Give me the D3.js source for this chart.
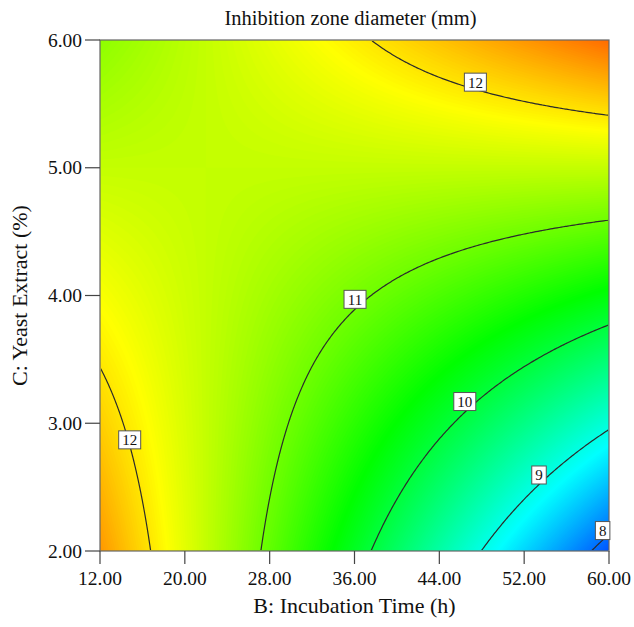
<!DOCTYPE html>
<html><head><meta charset="utf-8">
<script src="https://cdn.jsdelivr.net/npm/d3@7"></script>
<style>
body{margin:0;background:#fff}
</style>
</head><body>
<svg id="chart" width="634" height="627" font-family="'Liberation Serif', 'Times New Roman', Tinos, 'DejaVu Serif', serif"></svg>
<script>
// ---- data ----
const title = "Inhibition zone diameter (mm)";
const xTitle = "B: Incubation Time (h)";
const yTitle = "C: Yeast Extract (%)";
const xTicks = [12, 20, 28, 36, 44, 52, 60];
const yTicks = [2, 3, 4, 5, 6];
const xDomain = [12, 60];
const yDomain = [2, 6];
const contourLevels = [8, 9, 10, 11, 12];
// fitted response-surface model in coded units (B, C in -1..1)
const modelTerms = ["intercept", "B", "C", "BC", "B^2", "C^2"];
const modelCoef  = [11.05, -0.77, 0.90, 1.54, 0.0, 0.0];
// colour ramp (response value -> colour)
const colorStops  = [7.35, 8.85, 10.35, 11.85, 13.35];
const colorValues = ["#0000ff", "#00ffff", "#00ff00", "#ffff00", "#ff0000"];
// contour labels
const labelLevels = [12, 11, 10, 9, 8, 12];
const labelB      = [47.4, 36.05, 46.4, 53.4, 59.4, 14.8];
const labelC      = [5.67, 3.97, 3.17, 2.595, 2.16, 2.87];

// ---- layout ----
const L = 100, R = 609, T = 40, B = 551;
const svg = d3.select("#chart");
const xScale = d3.scaleLinear().domain(xDomain).range([L, R]);
const yScale = d3.scaleLinear().domain(yDomain).range([B, T]);
const color = d3.scaleLinear().domain(colorStops).range(colorValues).clamp(true);

function model(bv, cv) {
  const x = (bv - 36) / 24, y = (cv - 4) / 2;
  const t = [1, x, y, x * y, x * x, y * y];
  return d3.sum(t, (v, i) => v * modelCoef[i]);
}

// grid sampled at cell centres
const n = 240, m = 240;
const values = new Float64Array(n * m);
for (let j = 0; j < m; j++) {
  const cv = yDomain[1] - (j + 0.5) * (yDomain[1] - yDomain[0]) / m;
  for (let i = 0; i < n; i++) {
    const bv = xDomain[0] + (i + 0.5) * (xDomain[1] - xDomain[0]) / n;
    values[j * n + i] = model(bv, cv);
  }
}
const gx = d3.scaleLinear().domain([0, n]).range(xDomain);
const gy = d3.scaleLinear().domain([0, m]).range([yDomain[1], yDomain[0]]);
const path = d3.geoPath(d3.geoTransform({
  point(u, v) { this.stream.point(xScale(gx(u)), yScale(gy(v))); }
}));

const contours = d3.contours().size([n, m]);

// filled colour bands
const ext = d3.extent(values);
const step = 0.02;
const bandThresholds = d3.range(Math.floor(ext[0] / step) * step, ext[1], step);
svg.append("g").selectAll("path")
  .data(contours.thresholds(bandThresholds)(values))
  .join("path")
  .attr("d", path)
  .attr("fill", d => color(d.value + step / 2))
  .attr("stroke", "none");

// contour lines (clipped so the boundary parts are hidden)
svg.append("clipPath").attr("id", "inner")
  .append("rect").attr("x", L + 1).attr("y", T + 1)
  .attr("width", R - L - 2).attr("height", B - T - 2);
svg.append("g").attr("clip-path", "url(#inner)")
  .selectAll("path")
  .data(contours.thresholds(contourLevels)(values))
  .join("path")
  .attr("d", path)
  .attr("fill", "none")
  .attr("stroke", "#2b2b2b")
  .attr("stroke-width", 1.2);

// frame
svg.append("rect").attr("x", L).attr("y", T)
  .attr("width", R - L).attr("height", B - T)
  .attr("fill", "none").attr("stroke", "#666").attr("stroke-width", 1.2);

// x axis ticks
const xg = svg.append("g");
xg.selectAll("line").data(xTicks).join("line")
  .attr("x1", d => xScale(d)).attr("x2", d => xScale(d))
  .attr("y1", B).attr("y2", B + 13)
  .attr("stroke", "#444").attr("stroke-width", 1.2);
xg.selectAll("text").data(xTicks).join("text")
  .attr("x", d => xScale(d)).attr("y", B + 34)
  .attr("text-anchor", "middle").attr("font-size", 19.5).attr("fill", "#111")
  .text(d => d.toFixed(2));

// y axis ticks
const yg = svg.append("g");
yg.selectAll("line").data(yTicks).join("line")
  .attr("x1", L - 15).attr("x2", L)
  .attr("y1", d => yScale(d)).attr("y2", d => yScale(d))
  .attr("stroke", "#444").attr("stroke-width", 1.2);
yg.selectAll("text").data(yTicks).join("text")
  .attr("x", L - 18).attr("y", d => yScale(d) + 6.5)
  .attr("text-anchor", "end").attr("font-size", 19.5).attr("fill", "#111")
  .text(d => d.toFixed(2));

// titles
svg.append("text").attr("x", (L + R) / 2 - 4).attr("y", 25).attr("fill", "#111")
  .attr("text-anchor", "middle").attr("font-size", 20.5).text(title);
svg.append("text").attr("x", (L + R) / 2).attr("y", 613).attr("fill", "#111")
  .attr("text-anchor", "middle").attr("font-size", 22).text(xTitle);
svg.append("text").attr("transform", `translate(27,${(T + B) / 2}) rotate(-90)`).attr("fill", "#111")
  .attr("text-anchor", "middle").attr("font-size", 22).text(yTitle);

// contour labels
const lg = svg.append("g").selectAll("g")
  .data(labelLevels.map((v, i) => ({v, b: labelB[i], c: labelC[i]})))
  .join("g")
  .attr("transform", d => `translate(${xScale(d.b)},${yScale(d.c)})`);
lg.append("rect")
  .attr("x", d => -(String(d.v).length * 7.5 + 7) / 2)
  .attr("y", -9)
  .attr("width", d => String(d.v).length * 7.5 + 7)
  .attr("height", 18)
  .attr("fill", "#fff").attr("stroke", "#555").attr("stroke-width", 1);
lg.append("text")
  .attr("text-anchor", "middle").attr("y", 5.5).attr("fill", "#111")
  .attr("font-size", 15)
  .text(d => d.v);
</script>
</body></html>
